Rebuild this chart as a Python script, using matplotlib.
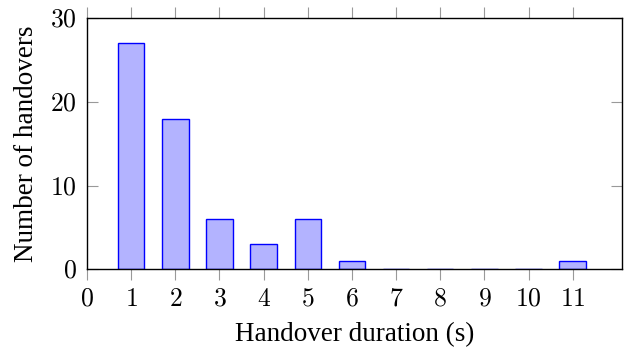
import matplotlib.pyplot as plt
from matplotlib.ticker import FuncFormatter

# handover durations (s) and counts
durations = [1, 2, 3, 4, 5, 6, 7, 8, 9, 10, 11]
counts = [27, 18, 6, 3, 6, 1, 0, 0, 0, 0, 1]
x_ticks = list(range(0, 12))
y_ticks = [0, 10, 20, 30]

plt.rcParams['font.family'] = ['Liberation Serif', 'DejaVu Serif']
plt.rcParams['mathtext.fontset'] = 'cm'

fig = plt.figure(figsize=(6.28, 3.49), dpi=100)
ax = fig.add_axes([0.1385, 0.2284, 0.8515, 0.7192])

ax.bar(durations, counts, width=0.6, color='#b3b3ff', edgecolor='#0000ff', linewidth=1.0)

ax.set_xlim(0, 12.11)
ax.set_ylim(0, 30)
ax.set_xticks(x_ticks)
ax.set_yticks(y_ticks)
# tick labels in math mode (Computer Modern digits)
fmt = FuncFormatter(lambda v, pos: r'$\mathrm{%d}$' % v)
ax.xaxis.set_major_formatter(fmt)
ax.yaxis.set_major_formatter(fmt)

# x ticks outward on bottom and top, y ticks inward on both sides
ax.tick_params(axis='x', direction='out', top=True, length=8, width=0.8, color='0.6',
               labelsize=18.5, pad=6)
ax.tick_params(axis='y', direction='in', right=True, length=8, width=0.8, color='0.6',
               labelsize=18.5, pad=7.5)

for sp in ax.spines.values():
    sp.set_linewidth(1.0)
    sp.set_color('black')

ax.set_xlabel('Handover duration (s)', fontsize=19.5, labelpad=8)
ax.set_ylabel('Number of handovers', fontsize=19.5, labelpad=8)

fig.savefig('out.png', dpi=100)
